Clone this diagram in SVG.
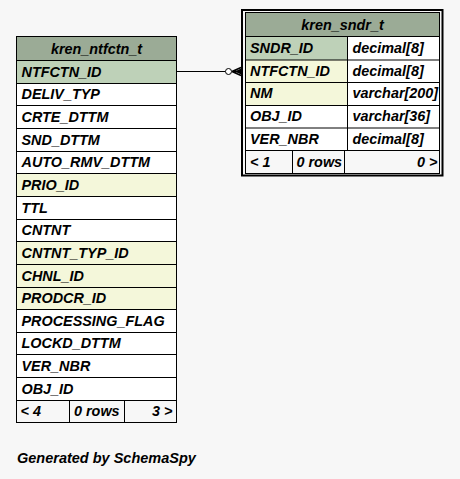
<svg xmlns="http://www.w3.org/2000/svg" width="460" height="479" viewBox="0 0 460 479">
<style>
text{font-family:"Liberation Sans",Arial,Helvetica,sans-serif;font-weight:bold;font-style:italic;font-size:14.4px;fill:#000}
.hd{fill:#9bab96}
.pk{fill:#bed1b8}
.ix{fill:#f4f7da}
.wh{fill:#ffffff}
.ft{fill:#f7f7f7}
.ln{stroke:#000;stroke-width:1;fill:none}
.c{text-anchor:middle}
.e{text-anchor:end}
</style>
<rect width="460" height="479" fill="#f7f7f7"/>
<g id="connectors">
<line class="ln" x1="176.5" y1="71.5" x2="225.5" y2="71.5"/>
<circle cx="228.5" cy="71.5" r="3" fill="#fff" stroke="#000" stroke-width="1"/>
<path d="M232 71.5 L241 67.5 M232 71.5 L241 71.5 M232 71.5 L241 75.5" stroke="#000" stroke-width="1.5" fill="none"/>
<path d="M235 71.5 L241 68.5 L241 74.5 Z" fill="#000"/>
</g>
<g id="kren_ntfctn_t">
<rect class="hd" x="16.5" y="36.5" width="160" height="24"/>
<rect class="pk" x="16.5" y="60.5" width="160" height="23"/>
<rect class="wh" x="16.5" y="83.5" width="160" height="90"/>
<rect class="ix" x="16.5" y="173.5" width="160" height="23"/>
<rect class="wh" x="16.5" y="196.5" width="160" height="45"/>
<rect class="ix" x="16.5" y="241.5" width="160" height="68"/>
<rect class="wh" x="16.5" y="309.5" width="160" height="91"/>
<rect class="ft" x="16.5" y="400.5" width="160" height="22"/>
<rect class="ln" x="16.5" y="36.5" width="160" height="386"/>
<path class="ln" d="M16.5 60.5H176.5M16.5 83.5H176.5M16.5 105.5H176.5M16.5 128.5H176.5M16.5 151.5H176.5M16.5 173.5H176.5M16.5 196.5H176.5M16.5 219.5H176.5M16.5 241.5H176.5M16.5 264.5H176.5M16.5 287.5H176.5M16.5 309.5H176.5M16.5 332.5H176.5M16.5 354.5H176.5M16.5 377.5H176.5M16.5 400.5H176.5M69.5 400.5V422.5M124.5 400.5V422.5"/>
<text class="c" x="96.5" y="53.5">kren_ntfctn_t</text>
<text x="21.5" y="76.5">NTFCTN_ID</text>
<text x="21.5" y="99">DELIV_TYP</text>
<text x="21.5" y="121.5">CRTE_DTTM</text>
<text x="21.5" y="144.5">SND_DTTM</text>
<text x="21.5" y="167">AUTO_RMV_DTTM</text>
<text x="21.5" y="189.5">PRIO_ID</text>
<text x="21.5" y="212.5">TTL</text>
<text x="21.5" y="235">CNTNT</text>
<text x="21.5" y="257.5">CNTNT_TYP_ID</text>
<text x="21.5" y="280.5">CHNL_ID</text>
<text x="21.5" y="303">PRODCR_ID</text>
<text x="21.5" y="325.5">PROCESSING_FLAG</text>
<text x="21.5" y="348">LOCKD_DTTM</text>
<text x="21.5" y="370.5">VER_NBR</text>
<text x="21.5" y="393.5">OBJ_ID</text>
<text x="20.5" y="416">&lt; 4</text>
<text x="74" y="416">0 rows</text>
<text class="e" x="172.5" y="416">3 &gt;</text>
</g>
<g id="kren_sndr_t">
<rect x="242" y="10" width="200.5" height="165.5" fill="none" stroke="#000" stroke-width="2"/>
<rect class="hd" x="245.5" y="12.5" width="194" height="24"/>
<rect class="pk" x="245.5" y="36.5" width="102" height="23.5"/>
<rect class="ix" x="245.5" y="60" width="102" height="45.5"/>
<rect class="wh" x="347.5" y="36.5" width="92" height="69"/>
<rect class="wh" x="245.5" y="105.5" width="194" height="45"/>
<rect class="ft" x="245.5" y="150.5" width="194" height="23"/>
<rect class="ln" x="245.5" y="12.5" width="194" height="161"/>
<path class="ln" d="M245.5 36.5H439.5M245.5 60H439.5M245.5 82.5H439.5M245.5 105.5H439.5M245.5 128H439.5M245.5 150.5H439.5M347.5 36.5V150.5M292.5 150.5V173.5M344.5 150.5V173.5"/>
<text class="c" x="342.5" y="29.5">kren_sndr_t</text>
<text x="250" y="52.5">SNDR_ID</text>
<text x="352.5" y="52.5">decimal[8]</text>
<text x="250" y="75.5">NTFCTN_ID</text>
<text x="352.5" y="75.5">decimal[8]</text>
<text x="250" y="98">NM</text>
<text x="352.5" y="98">varchar[200]</text>
<text x="250" y="121">OBJ_ID</text>
<text x="352.5" y="121">varchar[36]</text>
<text x="250" y="143.5">VER_NBR</text>
<text x="352.5" y="143.5">decimal[8]</text>
<text x="250" y="166.5">&lt; 1</text>
<text x="296.5" y="166.5">0 rows</text>
<text class="e" x="437.5" y="166.5">0 &gt;</text>
</g>
<text x="17" y="463" style="font-size:14.5px">Generated by SchemaSpy</text>
</svg>
